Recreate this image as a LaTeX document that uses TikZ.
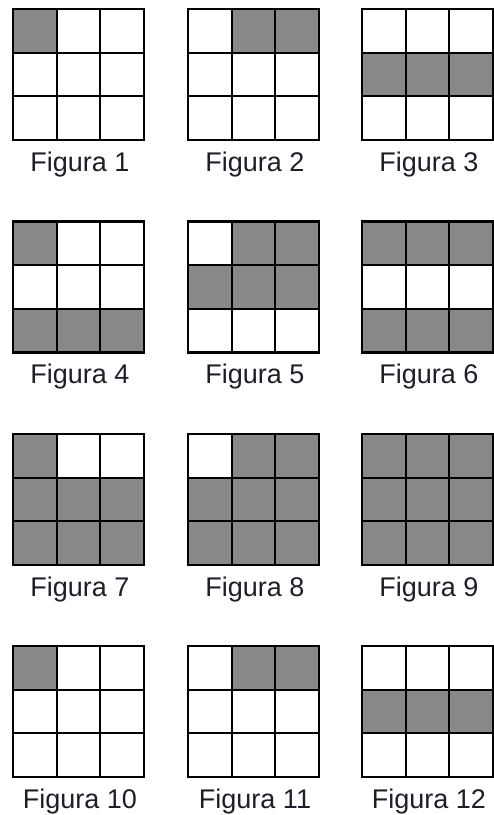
\documentclass[tikz,border=0pt]{standalone}
\usepackage{fontspec}
\setmainfont{Liberation Sans}
\definecolor{cellgray}{RGB}{136,136,136}
\definecolor{captext}{RGB}{30,30,40}
\newcommand\figgrid[5]{%
 \begin{scope}[shift={(#1,#2)}]
  \foreach \c/\r in {#5} {\fill[shaded] ({\c*43.67},{\r*43.67}) rectangle ++(43.67,43.67);}
  \foreach \k in {0,1,2,3} {
    \draw[gridline] ({\k*43.67},0) -- ({\k*43.67},131);
    \draw[gridline] (0,{\k*43.67}) -- (131,{\k*43.67});
  }
  \node[caption] (#3) at (67,162) {#4};
 \end{scope}}
\begin{document}
\begin{tikzpicture}[x=1pt,y=-1pt,
  gridline/.style={line width=2.2pt, line cap=rect},
  shaded/.style={fill=cellgray},
  caption/.style={font=\fontsize{27}{30}\selectfont, anchor=base, inner sep=0pt, text=captext}]
\useasboundingbox (0,0) rectangle (494,815);
\figgrid{13}{9}{f1}{Figura 1}{0/0}
\figgrid{188}{9}{f2}{Figura 2}{1/0,2/0}
\figgrid{362}{9}{f3}{Figura 3}{0/1,1/1,2/1}
\figgrid{13}{221.5}{f4}{Figura 4}{0/0,0/2,1/2,2/2}
\figgrid{188}{221.5}{f5}{Figura 5}{1/0,2/0,0/1,1/1,2/1}
\figgrid{362}{221.5}{f6}{Figura 6}{0/0,1/0,2/0,0/2,1/2,2/2}
\figgrid{13}{434}{f7}{Figura 7}{0/0,0/1,1/1,2/1,0/2,1/2,2/2}
\figgrid{188}{434}{f8}{Figura 8}{1/0,2/0,0/1,1/1,2/1,0/2,1/2,2/2}
\figgrid{362}{434}{f9}{Figura 9}{0/0,1/0,2/0,0/1,1/1,2/1,0/2,1/2,2/2}
\figgrid{13}{646}{f10}{Figura 10}{0/0}
\figgrid{188}{646}{f11}{Figura 11}{1/0,2/0}
\figgrid{362}{646}{f12}{Figura 12}{0/1,1/1,2/1}
\end{tikzpicture}
\end{document}
